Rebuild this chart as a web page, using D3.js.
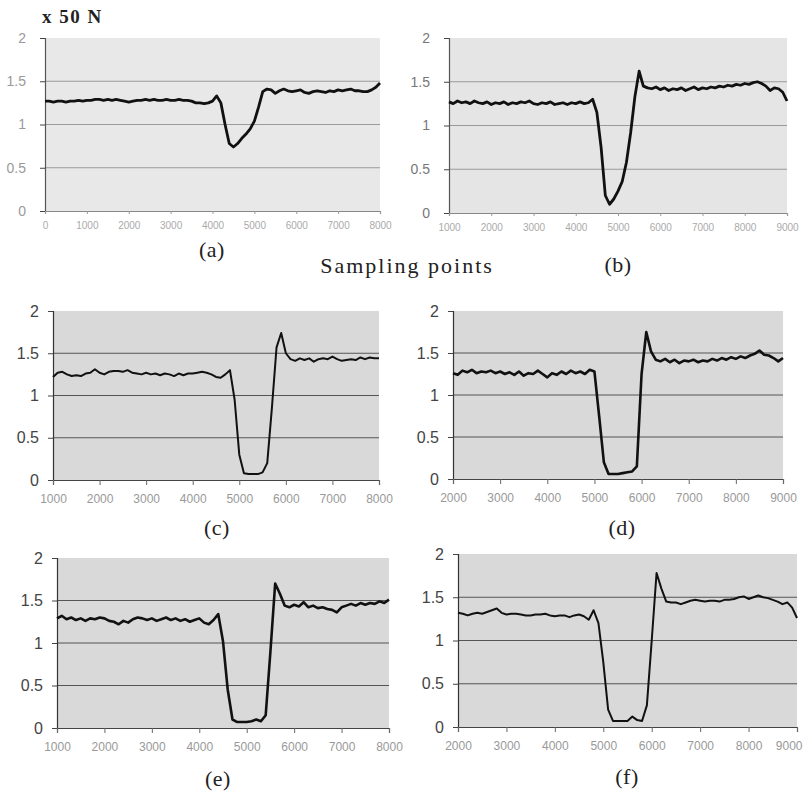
<!DOCTYPE html>
<html>
<head>
<meta charset="utf-8">
<script src="https://cdn.jsdelivr.net/npm/d3@7"></script>
<style>
  body { margin: 0; background: #fff; }
  svg { display: block; }
</style>
</head>
<body>
<div class="chart"></div>
<script>
// force readings (x 50 N), one value every 100 sampling points
const sampleStep = 100;

const startA = 0;
const valuesA = [
  1.27, 1.27, 1.26, 1.27, 1.27, 1.26, 1.27, 1.27, 1.28, 1.27,
  1.28, 1.28, 1.29, 1.29, 1.28, 1.29, 1.28, 1.29, 1.28, 1.27,
  1.26, 1.27, 1.28, 1.28, 1.29, 1.28, 1.29, 1.28, 1.28, 1.29,
  1.28, 1.28, 1.29, 1.28, 1.28, 1.27, 1.25, 1.25, 1.24, 1.25,
  1.27, 1.33, 1.25, 1.0, 0.78, 0.74, 0.78, 0.84, 0.89, 0.95,
  1.04, 1.2, 1.38, 1.41, 1.40, 1.36, 1.39, 1.41, 1.39, 1.38,
  1.39, 1.40, 1.37, 1.36, 1.38, 1.39, 1.38, 1.37, 1.39, 1.38,
  1.40, 1.39, 1.40, 1.41, 1.39, 1.39, 1.38, 1.38, 1.40, 1.43,
  1.48
];

const startB = 1000;
const valuesB = [
  1.27, 1.25, 1.28, 1.26, 1.27, 1.25, 1.28, 1.26, 1.25, 1.27,
  1.24, 1.26, 1.25, 1.27, 1.24, 1.26, 1.25, 1.27, 1.26, 1.28,
  1.25, 1.24, 1.26, 1.25, 1.27, 1.24, 1.25, 1.26, 1.24, 1.26,
  1.25, 1.27, 1.25, 1.26, 1.30, 1.15, 0.75, 0.2, 0.1, 0.16,
  0.25, 0.36, 0.58, 0.92, 1.33, 1.62, 1.45, 1.43, 1.42, 1.44,
  1.41, 1.43, 1.40, 1.42, 1.41, 1.43, 1.40, 1.42, 1.44, 1.41,
  1.43, 1.42, 1.44, 1.43, 1.45, 1.44, 1.46, 1.45, 1.47, 1.46,
  1.48, 1.47, 1.49, 1.50, 1.48, 1.45, 1.40, 1.43, 1.42, 1.38,
  1.28
];

const startC = 1000;
const valuesC = [
  1.22, 1.27, 1.28, 1.25, 1.23, 1.24, 1.23, 1.26, 1.27, 1.31,
  1.27, 1.25, 1.28, 1.29, 1.29, 1.28, 1.30, 1.27, 1.26, 1.25,
  1.27, 1.25, 1.26, 1.24, 1.26, 1.25, 1.23, 1.26, 1.24, 1.26,
  1.26, 1.27, 1.28, 1.27, 1.25, 1.22, 1.21, 1.25, 1.30, 0.95,
  0.3, 0.08, 0.07, 0.07, 0.07, 0.09, 0.2, 0.85, 1.57, 1.74,
  1.5, 1.43, 1.41, 1.44, 1.42, 1.44, 1.40, 1.43, 1.44, 1.43,
  1.46, 1.43, 1.41, 1.42, 1.43, 1.42, 1.45, 1.43, 1.45, 1.44,
  1.44
];

const startD = 2000;
const valuesD = [
  1.26, 1.24, 1.29, 1.27, 1.30, 1.26, 1.28, 1.27, 1.29, 1.26,
  1.28, 1.25, 1.27, 1.24, 1.28, 1.23, 1.26, 1.25, 1.29, 1.25,
  1.21, 1.26, 1.24, 1.28, 1.25, 1.29, 1.26, 1.28, 1.25, 1.30,
  1.28, 0.75, 0.2, 0.06, 0.06, 0.06, 0.07, 0.08, 0.09, 0.15,
  1.25, 1.75, 1.52, 1.42, 1.40, 1.43, 1.39, 1.42, 1.38, 1.41,
  1.40, 1.42, 1.39, 1.41, 1.40, 1.43, 1.41, 1.44, 1.42, 1.45,
  1.43, 1.46, 1.44, 1.47, 1.49, 1.53, 1.48, 1.47, 1.44, 1.40,
  1.44
];

const startE = 1000;
const valuesE = [
  1.29, 1.32, 1.28, 1.30, 1.27, 1.29, 1.26, 1.29, 1.28, 1.30,
  1.29, 1.26, 1.25, 1.22, 1.26, 1.24, 1.28, 1.30, 1.29, 1.27,
  1.29, 1.26, 1.28, 1.30, 1.27, 1.29, 1.26, 1.28, 1.25, 1.27,
  1.29, 1.24, 1.22, 1.27, 1.34, 1.02, 0.45, 0.1, 0.07, 0.07,
  0.07, 0.08, 0.1, 0.08, 0.15, 0.9, 1.7, 1.58, 1.44, 1.42,
  1.45, 1.43, 1.48, 1.42, 1.44, 1.41, 1.42, 1.40, 1.39, 1.36,
  1.42, 1.44, 1.46, 1.44, 1.47, 1.45, 1.47, 1.46, 1.49, 1.47,
  1.51
];

const startF = 2000;
const valuesF = [
  1.32, 1.31, 1.29, 1.31, 1.32, 1.31, 1.33, 1.35, 1.37, 1.32,
  1.30, 1.31, 1.31, 1.30, 1.29, 1.29, 1.30, 1.30, 1.31, 1.29,
  1.28, 1.29, 1.29, 1.27, 1.29, 1.30, 1.28, 1.24, 1.35, 1.2,
  0.75, 0.2, 0.07, 0.07, 0.07, 0.07, 0.12, 0.08, 0.07, 0.25,
  1.0, 1.78, 1.6, 1.45, 1.44, 1.44, 1.42, 1.44, 1.46, 1.47,
  1.46, 1.45, 1.46, 1.46, 1.45, 1.47, 1.47, 1.48, 1.50, 1.51,
  1.48, 1.50, 1.52, 1.50, 1.49, 1.47, 1.45, 1.42, 1.44, 1.38,
  1.26
];

const yTicks = [0, 0.5, 1, 1.5, 2];
const gridLevels = [0.5, 1, 1.5];
const xTicksA = [0, 1000, 2000, 3000, 4000, 5000, 6000, 7000, 8000];
const xTicksB = [1000, 2000, 3000, 4000, 5000, 6000, 7000, 8000, 9000];
const xTicksCE = [1000, 2000, 3000, 4000, 5000, 6000, 7000, 8000];
const xTicksDF = [2000, 3000, 4000, 5000, 6000, 7000, 8000, 9000];

const width = 803;
const height = 794;

// placement of each small chart on the page
const panels = [
  { name: '(a)', start: startA, values: valuesA, ticks: xTicksA, left: 45, right: 380, top: 38, bottom: 211,
    labelX: 212, labelY: 257, bg: '#e8e8e8', grid: '#9a9a9a', line: 2.8, faint: true, yText: '#9a9a9a' },
  { name: '(b)', start: startB, values: valuesB, ticks: xTicksB, left: 449, right: 787, top: 38, bottom: 213,
    labelX: 618, labelY: 272, bg: '#e5e5e5', grid: '#9a9a9a', line: 2.8, faint: true, yText: '#777' },
  { name: '(c)', start: startC, values: valuesC, ticks: xTicksCE, left: 53, right: 379, top: 311, bottom: 480,
    labelX: 217, labelY: 535, bg: '#d9d9d9', grid: '#555', line: 2 },
  { name: '(d)', start: startD, values: valuesD, ticks: xTicksDF, left: 453, right: 783, top: 311, bottom: 479,
    labelX: 622, labelY: 535, bg: '#d9d9d9', grid: '#555', line: 2.6 },
  { name: '(e)', start: startE, values: valuesE, ticks: xTicksCE, left: 57, right: 389, top: 558, bottom: 728,
    labelX: 218, labelY: 786, bg: '#d9d9d9', grid: '#555', line: 2.6 },
  { name: '(f)', start: startF, values: valuesF, ticks: xTicksDF, left: 458, right: 797, top: 554, bottom: 727,
    labelX: 627, labelY: 784, bg: '#d9d9d9', grid: '#555', line: 2 }
];

const svg = d3
  .select('.chart')
  .append('svg')
  .attr('width', width)
  .attr('height', height)
  .style('background', '#fff');

panels.forEach((p) => {
  const points = p.values.map((v, i) => ({ x: p.start + i * sampleStep, y: v }));

  const x = d3
    .scaleLinear()
    .domain([p.ticks[0], p.ticks[p.ticks.length - 1]])
    .range([p.left, p.right]);
  const y = d3.scaleLinear().domain([0, 2]).range([p.bottom, p.top]);

  const g = svg.append('g');

  g.append('rect')
    .attr('x', p.left)
    .attr('y', p.top)
    .attr('width', p.right - p.left)
    .attr('height', p.bottom - p.top)
    .attr('fill', p.bg);

  g.selectAll('.grid')
    .data(gridLevels)
    .enter()
    .append('line')
    .attr('x1', p.left)
    .attr('x2', p.right)
    .attr('y1', (d) => y(d))
    .attr('y2', (d) => y(d))
    .attr('stroke', p.grid)
    .attr('stroke-width', 1);

  // left axis
  const yAxis = g
    .append('g')
    .attr('transform', `translate(${p.left},0)`)
    .call(
      d3
        .axisLeft(y)
        .tickValues(yTicks)
        .tickSize(5)
        .tickPadding(p.faint ? 14 : 9)
        .tickFormat(d3.format(''))
    );
  yAxis.select('.domain').attr('stroke', p.faint ? '#555' : '#333').attr('stroke-width', 1.2);
  yAxis.selectAll('.tick line').attr('stroke', '#444');
  yAxis
    .selectAll('text')
    .attr('font-family', 'Liberation Sans, Arial, sans-serif')
    .attr('font-size', p.faint ? 14 : 16)
    .attr('fill', p.yText || '#444');

  // bottom axis
  const xAxis = g
    .append('g')
    .attr('transform', `translate(0,${p.bottom})`)
    .call(
      d3
        .axisBottom(x)
        .tickValues(p.ticks)
        .tickSize(p.faint ? 3 : 5)
        .tickPadding(p.faint ? 8 : 9)
        .tickFormat(d3.format('d'))
    );
  xAxis.select('.domain').attr('stroke', p.faint ? '#888' : '#444').attr('stroke-width', 1.2);
  xAxis.selectAll('.tick line').attr('stroke', p.faint ? '#999' : '#666');
  xAxis
    .selectAll('text')
    .attr('font-family', 'Liberation Sans, Arial, sans-serif')
    .attr('font-size', p.faint ? 10 : 12)
    .attr('fill', p.faint ? '#aaa' : '#999');
  // keep the last label inside the page
  if (p.right + 14 > width) {
    xAxis.selectAll('.tick:last-of-type text').attr('text-anchor', 'end').attr('dx', 5);
  }

  const line = d3
    .line()
    .x((d) => x(d.x))
    .y((d) => y(d.y));

  g.append('path')
    .datum(points)
    .attr('d', line)
    .attr('fill', 'none')
    .attr('stroke', '#111')
    .attr('stroke-width', p.line)
    .attr('stroke-linejoin', 'round');

  svg
    .append('text')
    .attr('x', p.labelX)
    .attr('y', p.labelY)
    .attr('text-anchor', 'middle')
    .attr('font-family', 'Liberation Serif, Times New Roman, serif')
    .attr('font-size', 22)
    .attr('letter-spacing', 0.5)
    .attr('fill', '#222')
    .text(p.name);
});

// unit and shared axis title
svg
  .append('text')
  .attr('x', 42)
  .attr('y', 23)
  .attr('font-family', 'Liberation Serif, Times New Roman, serif')
  .attr('font-weight', 'bold')
  .attr('font-size', 19)
  .attr('letter-spacing', 1.5)
  .attr('fill', '#222')
  .text('x 50 N');

svg
  .append('text')
  .attr('x', 407)
  .attr('y', 273)
  .attr('text-anchor', 'middle')
  .attr('font-family', 'Liberation Serif, Times New Roman, serif')
  .attr('font-size', 22)
  .attr('letter-spacing', 2)
  .attr('fill', '#222')
  .text('Sampling points');
</script>
</body>
</html>
